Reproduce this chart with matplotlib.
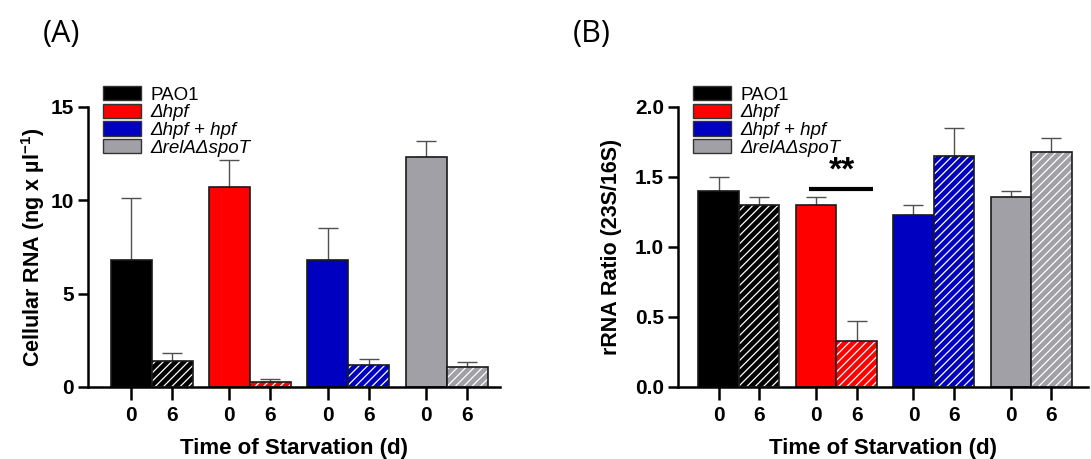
import matplotlib
matplotlib.use('Agg')
import matplotlib.pyplot as plt
import numpy as np

plt.rcParams['font.family'] = ['Liberation Sans', 'DejaVu Sans']
plt.rcParams['mathtext.fontset'] = 'custom'
plt.rcParams['mathtext.rm'] = 'Liberation Sans'
plt.rcParams['mathtext.bf'] = 'Liberation Sans:bold'
plt.rcParams['hatch.linewidth'] = 0.9

strains = ['PAO1', 'Δhpf', 'Δhpf + hpf', 'ΔrelAΔspoT']
colors = ['#000000', '#ff0000', '#0000c0', '#a0a0a6']
times = ['0', '6']

# panel A: cellular RNA
rna_0 = [6.8, 10.7, 6.8, 12.3]
rna_0_err = [3.3, 1.45, 1.72, 0.88]
rna_6 = [1.41, 0.25, 1.19, 1.07]
rna_6_err = [0.41, 0.18, 0.31, 0.25]

# panel B: rRNA ratio
ratio_0 = [1.40, 1.30, 1.23, 1.36]
ratio_0_err = [0.10, 0.06, 0.07, 0.04]
ratio_6 = [1.30, 0.33, 1.65, 1.68]
ratio_6_err = [0.06, 0.14, 0.20, 0.10]

fig = plt.figure(figsize=(10.91, 4.59), dpi=100)
axA = fig.add_axes([88/1091, 72/459, 412/1091, 280/459])
axB = fig.add_axes([678/1091, 72/459, 410/1091, 280/459])

group_step = 2.4


def draw_panel(ax, v0, e0, v6, e6, ymax, yticks, ylabel, xlim, ypad):
    ticks = []
    for g in range(4):
        x0 = g * group_step
        x6 = x0 + 1
        ticks += [x0, x6]
        c = colors[g]
        ax.bar(x0, v0[g], width=1, color=c, edgecolor='#1a1a1a', linewidth=1.2, zorder=2)
        ax.bar(x6, v6[g], width=1, color=c, edgecolor='white', hatch='////', linewidth=0, zorder=2)
        ax.bar(x6, v6[g], width=1, fill=False, edgecolor='#1a1a1a', linewidth=1.2, zorder=3)
        ax.errorbar([x0, x6], [v0[g], v6[g]], yerr=[[0, 0], [e0[g], e6[g]]],
                    fmt='none', ecolor='#505050', elinewidth=1, capsize=7, capthick=1, zorder=1)
    ax.set_xticks(ticks)
    ax.set_xticklabels(times * 4)
    ax.set_xlim(*xlim)
    ax.set_ylim(0, ymax)
    ax.set_yticks(yticks)
    ax.spines['top'].set_visible(False)
    ax.spines['right'].set_visible(False)
    ax.spines['left'].set_linewidth(1.8)
    ax.spines['bottom'].set_linewidth(1.8)
    ax.tick_params(axis='both', width=1.8, length=7, labelsize=15, pad=3)
    ax.tick_params(axis='x', length=9, pad=5)
    for lab in ax.get_xticklabels() + ax.get_yticklabels():
        lab.set_fontweight('bold')
    ax.set_xlabel('Time of Starvation (d)', fontsize=16, fontweight='bold', labelpad=9)
    ax.set_ylabel(ylabel, fontsize=15.5, fontweight='bold', labelpad=ypad)


draw_panel(axA, rna_0, rna_0_err, rna_6, rna_6_err, 15, [0, 5, 10, 15],
           r'Cellular RNA (ng x µl$^{\mathbf{-1}}$)', (-1.05, 9.0), 3)
draw_panel(axB, ratio_0, ratio_0_err, ratio_6, ratio_6_err, 2.0, [0, 0.5, 1.0, 1.5, 2.0],
           'rRNA Ratio (23S/16S)', (-1.0, 9.1), 9)
axB.set_yticklabels(['0.0', '0.5', '1.0', '1.5', '2.0'], fontweight='bold')

# significance marker
axB.plot([2.23, 3.80], [1.415, 1.415], color='black', lw=3, solid_capstyle='butt')
axB.text(3.03, 1.54, '**', ha='center', va='center', fontsize=24, fontweight='bold')

for ax, lx in [(axA, 103), (axB, 693)]:
    handles = [plt.Rectangle((0, 0), 1, 1, facecolor=c, edgecolor='#333333', linewidth=1) for c in colors]
    leg = fig.legend(handles, strains, loc='upper left', bbox_to_anchor=(lx/1091, 1 - 86/459),
                     bbox_transform=fig.transFigure, frameon=False, fontsize=13.5,
                     handlelength=2.0, handleheight=0.8, labelspacing=0.0,
                     handletextpad=0.55, borderpad=0, borderaxespad=0)
    for i, t in enumerate(leg.get_texts()):
        if i > 0:
            t.set_fontstyle('italic')

fig.text(61/1091, 1 - 34/459, '(A)', ha='center', va='center', fontsize=22, family='Open Sans')
fig.text(592/1091, 1 - 34/459, '(B)', ha='center', va='center', fontsize=22, family='Open Sans')

fig.savefig('out.png', dpi=100)
